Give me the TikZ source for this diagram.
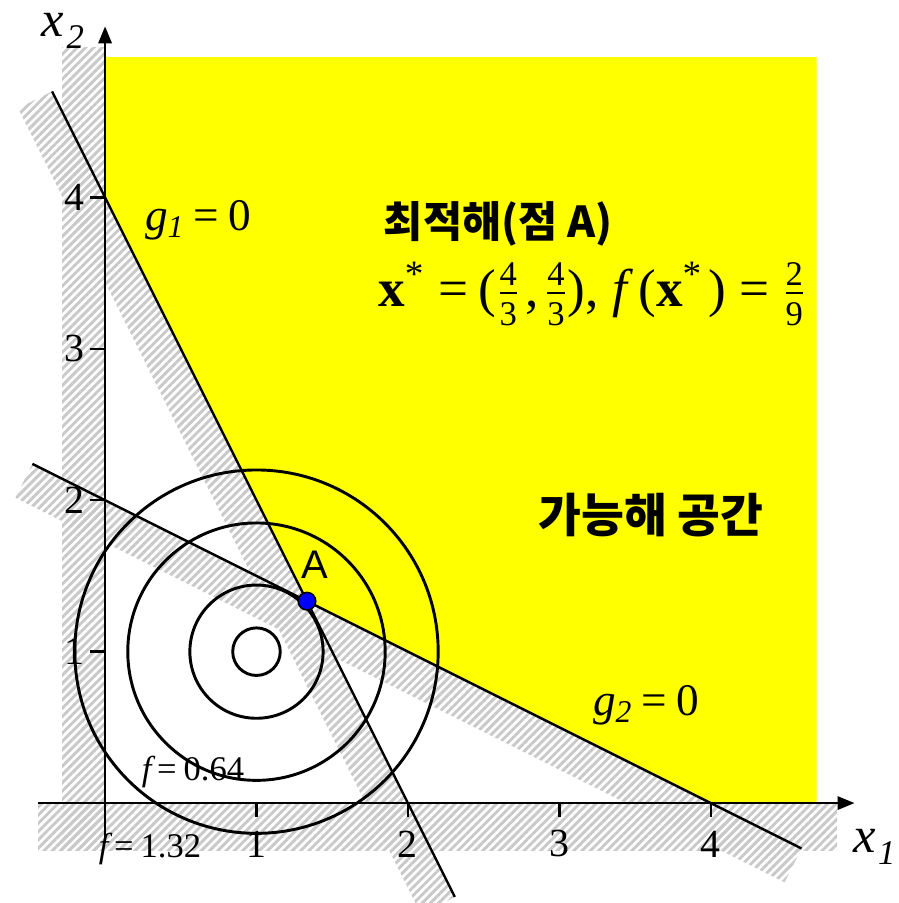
\documentclass[tikz,border=0pt]{standalone}
\usepackage{amsmath}
\usepackage{graphicx}
\usepackage{fontspec}
\setmainfont{Liberation Serif}
\setsansfont{Liberation Sans}
\newfontfamily\krfont{Noto Sans CJK KR}
\usetikzlibrary{arrows.meta,calc,patterns.meta}
\definecolor{feasyellow}{RGB}{255,255,0}
\newcommand{\qfrac}[2]{$\genfrac{}{}{0.6pt}{1}{\hbox{\fontsize{13}{13}\selectfont#1}}{\hbox{\fontsize{13}{13}\selectfont#2}}$}
\newcommand{\axsub}[1]{\kern0.05em\raisebox{-4.6pt}{\fontsize{13}{13}\selectfont\textit{#1}}}

\begin{document}
\begin{tikzpicture}[x=2cm, y=2cm, line width=0.9pt, >={Triangle[length=6.4pt,width=5pt]},
	hatch/.style={pattern={Lines[angle=45,distance=2.2pt,line width=1.1pt]}, pattern color=gray!42},
	lab/.style={font=\fontsize{13}{15}\selectfont, inner sep=1pt},
	ticklab/.style={font=\fontsize{15}{17}\selectfont, inner sep=1pt},
	biglab/.style={font=\fontsize{17}{20}\selectfont, inner sep=1pt},
	krlab/.style={font=\krfont\bfseries\fontsize{16}{19}\selectfont, inner sep=1pt}]
	\useasboundingbox (-0.694,-0.660) rectangle (5.237,5.304);
	\fill[feasyellow] (0,4) -- (0,4.927) -- (4.70,4.927) -- (4.70,0) -- (4,0) -- (4/3,4/3) -- cycle;
	\coordinate (g1s) at (-0.35,4.7);
	\coordinate (g1e) at (2.31,-0.62);
	\coordinate (g2s) at (-0.48,2.24);
	\coordinate (g2e) at (4.6,-0.3);
	\coordinate (A) at (4/3,4/3);
	\fill[hatch] (-0.284,-0.31) rectangle (0,4.99);
	\fill[hatch] (-0.443,-0.31) rectangle (4.835,0);
	\fill[hatch] (g1s) -- (g1e) -- ($(g1e)+(-0.224,-0.112)$) -- ($(g1s)+(-0.224,-0.112)$) -- cycle;
	\fill[hatch] (g2s) -- (g2e) -- ($(g2e)+(-0.112,-0.224)$) -- ($(g2s)+(-0.112,-0.224)$) -- cycle;
	\foreach \r in {0.157,0.44,0.85,1.2} {\draw[line width=1.1pt] (1,1) circle (\r);}
	\draw (g1s) -- (g1e);
	\draw (g2s) -- (g2e);
	\draw[->] (-0.443,0) -- (4.95,0);
	\draw[->] (0,-0.264) -- (0,5.13);
	\foreach \t in {1,...,4} {
		\draw (\t,0) -- (\t,-0.09);
		\node[ticklab] (xt\t) at (\t,-0.27) {\t};
		\draw (0,\t) -- (-0.1,\t);
		\node[ticklab] (yt\t) at (-0.2,\t) {\t};
	}
	\node[biglab, inner sep=0pt, font=\fontsize{19}{22}\selectfont] (lx2) at (-0.28,5.1) {\textit{x}\axsub{2}};
	\node[biglab, inner sep=0pt, font=\fontsize{19}{22}\selectfont] (lx1) at (5.08,-0.29) {\textit{x}\axsub{1}};
	\node[biglab] (lg1) at (0.614,3.85) {\textit{g}\textsubscript{\textit{1}}\kern0.2em=\kern0.2em0};
	\node[biglab] (lg2) at (3.573,0.647) {\textit{g}\textsubscript{\textit{2}}\kern0.2em=\kern0.2em0};
	\node[lab] (lf1) at (0.581,0.205) {\textit{f}\kern0.05em=\kern0.2em0.64};
	\node[lab] (lf2) at (0.297,-0.304) {\textit{f}\kern0.05em=\kern0.2em1.32};
	\node[krlab] (opt) at (2.596,3.824) {최적해(점 A)};
	\node[biglab, font=\fontsize{20}{24}\selectfont] (xopt) at (3.217,3.36) {\textbf{x}\textsuperscript{*}\kern0.25em=\kern0.2em(\qfrac{4}{3}\kern0.1em,\kern0.1em\qfrac{4}{3}), \textit{f}\kern0.1em(\textbf{x}\textsuperscript{*}\kern0.1em)\kern0.25em=\kern0.25em\qfrac{2}{9}};
	\node[krlab, font=\krfont\bfseries\fontsize{17.5}{20}\selectfont] (feas) at (3.606,1.902) {가능해 공간};
	\filldraw[fill=blue, draw=black, line width=0.6pt] (A) circle (0.058);
	\node[lab, font=\sffamily\fontsize{15}{18}\selectfont] (lA) at (1.387,1.572) {A};
\end{tikzpicture}
\end{document}
